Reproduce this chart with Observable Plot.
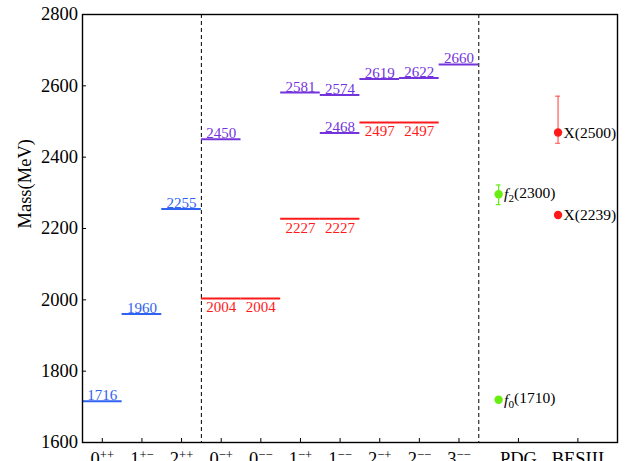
<!DOCTYPE html>
<html><head><meta charset="utf-8">
<script src="https://cdn.jsdelivr.net/npm/d3@7"></script>
<script src="https://cdn.jsdelivr.net/npm/@observablehq/plot@0.6"></script>
<style>html,body{margin:0;padding:0;background:#fff;overflow:hidden}</style>
</head><body><div id="chart"></div>
<script>
// ---- data ----
const categories = ["0++", "1+-", "2++", "0-+", "0--", "1-+", "1--", "2-+", "2--", "3--"];
const blueCats = ["0++", "1+-", "2++"];
const blueMass = [1716, 1960, 2255];
const purpleCats = ["0-+", "1-+", "1--", "1--", "2-+", "2--", "3--"];
const purpleMass = [2450, 2581, 2574, 2468, 2619, 2622, 2660];
const redCats = ["0-+", "0--", "1-+", "1--", "2-+", "2--"];
const redMass = [2004, 2004, 2227, 2227, 2497, 2497];
const pdgNames = ["f0(1710)", "f2(2300)"];
const pdgMass = [1720, 2296];
const pdgLow = [null, 2267];
const pdgHigh = [null, 2322];
const besNames = ["X(2239)", "X(2500)"];
const besMass = [2238, 2469];
const besLow = [null, 2439];
const besHigh = [null, 2571];
const yTicks = [1600, 1800, 2000, 2200, 2400, 2600, 2800];
const expLabels = ["PDG", "BESIII"];

// ---- layout constants ----
const colors = {blue: "#2f62f2", purple: "#7434dc", red: "#ff1a1a", green: "#66ee11"};
const catIndex = new Map(categories.map((c, i) => [c, i]));
const pdgX = categories.length;        // point column for PDG
const besX = categories.length + 1.5;  // point column for BESIII
const xTickPos = [...categories.map((c, i) => i), pdgX + 0.5, besX + 0.5];
const xTickText = [...categories, ...expLabels];
const xLabelAt = new Map(xTickPos.map((p, i) => [p, xTickText[i]]));
const separators = [2.5, categories.length - 0.5];

const levels = [
  ...blueCats.map((c, i) => ({cat: c, mass: blueMass[i], series: "blue"})),
  ...purpleCats.map((c, i) => ({cat: c, mass: purpleMass[i], series: "purple"})),
  ...redCats.map((c, i) => ({cat: c, mass: redMass[i], series: "red"}))
];
const exps = [
  ...pdgNames.map((n, i) => ({name: n, x: pdgX, mass: pdgMass[i], lo: pdgLow[i], hi: pdgHigh[i], color: colors.green, err: colors.green})),
  ...besNames.map((n, i) => ({name: n, x: besX, mass: besMass[i], lo: besLow[i], hi: besHigh[i], color: colors.red, err: "#ff5a5a"}))
];
const withErr = exps.filter(d => d.lo != null);
const capW = 0.06;

const chart = Plot.plot({
  width: 633, height: 461,
  marginLeft: 82, marginRight: 16, marginTop: 14, marginBottom: 19,
  style: {fontFamily: "'Liberation Serif', 'Times New Roman', serif", fontSize: "18.5px", color: "black", background: "white"},
  x: {domain: [-0.5, 13]},
  y: {domain: [1600, 2800]},
  marks: [
    Plot.axisY({ticks: yTicks, tickSize: -4, tickPadding: 8.5, label: null, tickFormat: d => String(d), stroke: "black"}),
    Plot.axisX({ticks: xTickPos, tickSize: -4, tickPadding: 13, label: null, tickFormat: d => xLabelAt.get(d), stroke: "black"}),
    Plot.ruleX(separators, {stroke: "black", strokeWidth: 1, strokeDasharray: "4,3"}),
    Plot.ruleY(levels, {y: "mass", x1: d => catIndex.get(d.cat) - 0.5, x2: d => catIndex.get(d.cat) + 0.5, stroke: d => colors[d.series], strokeWidth: 2}),
    Plot.text(levels.filter(d => d.series !== "red"), {x: d => catIndex.get(d.cat), y: "mass", text: d => String(d.mass), lineAnchor: "bottom", dy: -1, fill: d => colors[d.series], fontSize: 15}),
    Plot.text(levels.filter(d => d.series === "red"), {x: d => catIndex.get(d.cat), y: "mass", text: d => String(d.mass), lineAnchor: "top", dy: 3, fill: d => colors[d.series], fontSize: 15}),
    Plot.ruleX(withErr, {x: "x", y1: "lo", y2: "hi", stroke: "err", strokeWidth: 1.2}),
    Plot.ruleY(withErr, {y: "lo", x1: d => d.x - capW, x2: d => d.x + capW, stroke: "err", strokeWidth: 1.2}),
    Plot.ruleY(withErr, {y: "hi", x1: d => d.x - capW, x2: d => d.x + capW, stroke: "err", strokeWidth: 1.2}),
    Plot.dot(exps, {x: "x", y: "mass", r: 4.2, fill: "color", stroke: null}),
    Plot.text(exps, {x: "x", y: "mass", text: "name", textAnchor: "start", dx: 5.5, fontSize: 15.5, fill: "black"}),
    Plot.frame({stroke: "black", strokeWidth: 1.4}),
    Plot.text(["Mass(MeV)"], {frameAnchor: "left", rotate: -90, dx: -57, fontSize: 18.5, fill: "black"})
  ]
});
document.getElementById("chart").append(chart);

// superscripts for J^PC tick labels
d3.select(chart).selectAll('g[aria-label="x-axis tick label"] text').each(function() {
  const t = this.textContent;
  if (!/[+-]/.test(t)) return;
  const sel = d3.select(this);
  sel.text(null);
  sel.append("tspan").text(t[0]);
  sel.append("tspan").attr("dy", "-0.42em").attr("font-size", "0.68em").text(t.slice(1).replace(/-/g, "\u2212"));
});
// italic f with subscript in experimental labels
d3.select(chart).selectAll("text").each(function() {
  if (this.querySelector("tspan")) return;
  const t = this.textContent;
  const m = /^f(\d)(\(.*)$/.exec(t);
  if (!m) return;
  const sel = d3.select(this);
  sel.text(null);
  sel.append("tspan").attr("font-style", "italic").text("f");
  sel.append("tspan").attr("dy", "0.28em").attr("font-size", "0.72em").text(m[1]);
  sel.append("tspan").attr("dy", "-0.28em").text(m[2]);
});
</script></body></html>
